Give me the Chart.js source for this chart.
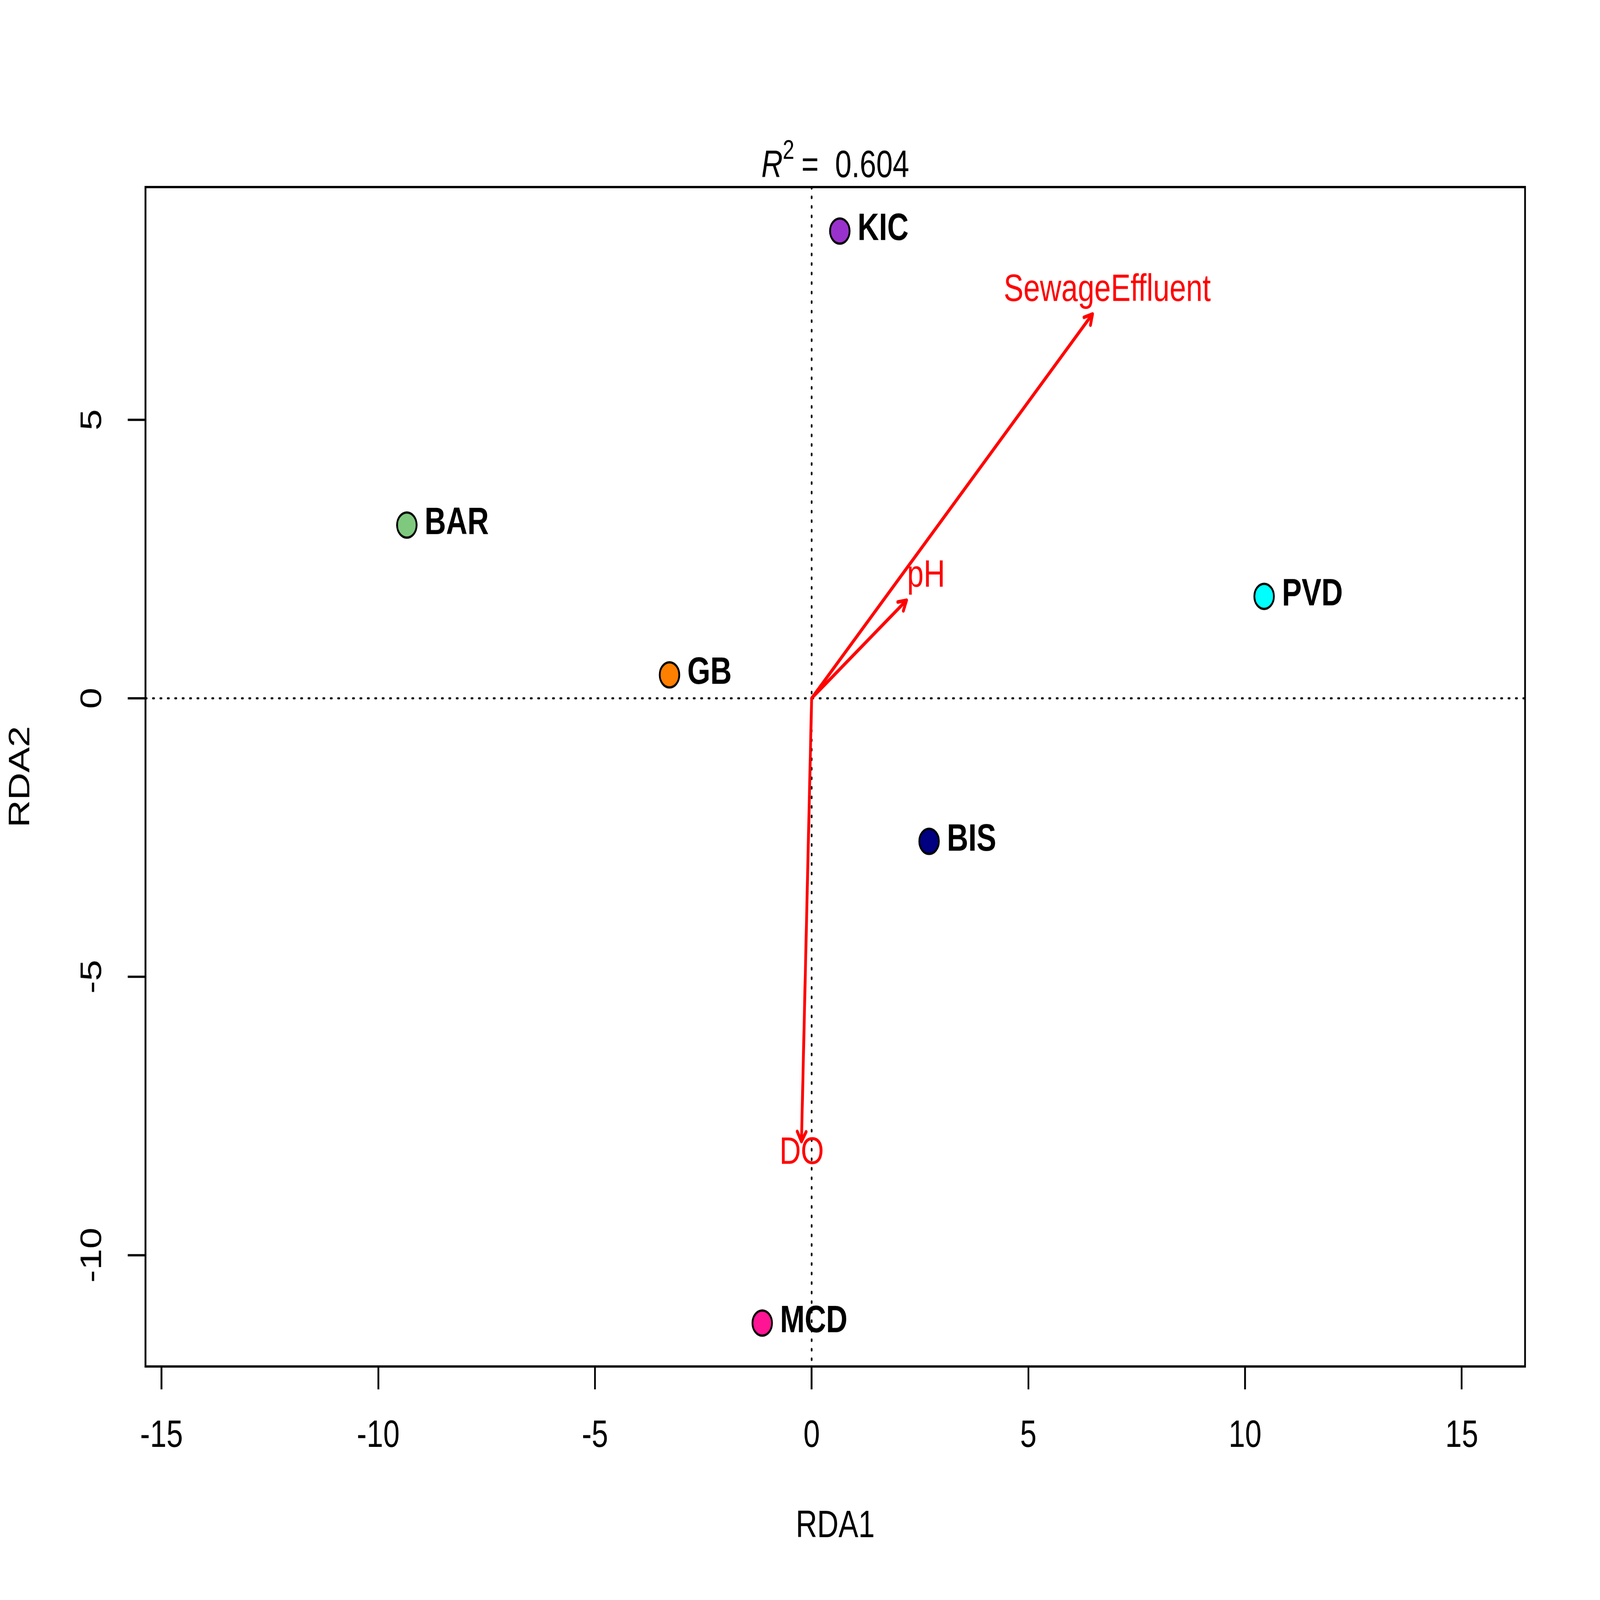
<!DOCTYPE html>
<html><head><meta charset="utf-8">
<script src="https://cdn.jsdelivr.net/npm/chart.js@4"></script>
<style>html,body{margin:0;padding:0;background:#fff;overflow:hidden;}canvas{display:block;}</style>
</head><body>
<canvas id="c" width="5400" height="4200"></canvas>
<script>
// ---- data ----
const siteNames = ['KIC','BAR','GB','PVD','BIS','MCD'];
const siteX = [0.65, -9.34, -3.28, 10.44, 2.71, -1.14];
const siteY = [8.39, 3.11, 0.42, 1.83, -2.57, -11.22];
const siteColors = ['#9932CC','#7FC97F','#FF7F00','#00FFFF','#000080','#FF1493'];
const envNames = ['SewageEffluent','pH','DO'];
const envX = [6.48, 2.19, -0.235];
const envY = [6.90, 1.76, -7.96];
const envLabelX = [6.82, 2.64, -0.23];
const envLabelY = [7.32, 2.19, -8.17];
const xTicks = [-15,-10,-5,0,5,10,15];
const xTickLabels = ['-15','-10','-5','0','5','10','15'];
const yTicks = [-10,-5,0,5];
const yTickLabels = ['-10','-5','0','5'];
const xRange = [-15.37, 16.46];
const yRange = [-12.0, 9.18];
const r2Value = '0.604';
const xTitle = 'RDA1';
const yTitle = 'RDA2';

const FONT = '"Liberation Sans", Arial, Helvetica, sans-serif';

// fit the 5400x4200 drawing into the actual window
const cv = document.getElementById('c');
cv.style.width = (window.innerWidth || 5400) + 'px';
cv.style.height = (window.innerHeight || 4200) + 'px';

const rdaPlugin = {
  id: 'rda',
  beforeDatasetsDraw(chart) {
    const {ctx, chartArea: a, scales: {x, y}} = chart;
    ctx.save();
    ctx.strokeStyle = '#000';
    ctx.lineWidth = 5.5;
    ctx.lineCap = 'round';
    ctx.setLineDash([4, 21]);
    const x0 = x.getPixelForValue(0), y0 = y.getPixelForValue(0);
    ctx.beginPath(); ctx.moveTo(a.left, y0); ctx.lineTo(a.right, y0); ctx.stroke();
    ctx.beginPath(); ctx.moveTo(x0, a.top); ctx.lineTo(x0, a.bottom); ctx.stroke();
    ctx.restore();
  },
  afterDatasetsDraw(chart) {
    const {ctx, scales: {x, y}} = chart;
    ctx.save();
    // arrowheads
    ctx.strokeStyle = '#FF0000';
    ctx.lineWidth = 9.5;
    ctx.lineCap = 'round';
    ctx.lineJoin = 'round';
    for (let i = 0; i < envNames.length; i++) {
      const meta = chart.getDatasetMeta(i + 1);
      const p0 = meta.data[0], p1 = meta.data[1];
      const ang = Math.atan2(p1.y - p0.y, p1.x - p0.x);
      const L = 30, h = Math.PI / 6;
      ctx.beginPath();
      ctx.moveTo(p1.x - L * Math.cos(ang - h), p1.y - L * Math.sin(ang - h));
      ctx.lineTo(p1.x, p1.y);
      ctx.lineTo(p1.x - L * Math.cos(ang + h), p1.y - L * Math.sin(ang + h));
      ctx.stroke();
    }
    // env labels
    ctx.fillStyle = '#FF0000';
    ctx.font = '100px ' + FONT;
    ctx.textAlign = 'center';
    ctx.textBaseline = 'middle';
    for (let i = 0; i < envNames.length; i++) {
      ctx.fillText(envNames[i], x.getPixelForValue(envLabelX[i]), y.getPixelForValue(envLabelY[i]));
    }
    // site labels
    ctx.fillStyle = '#000';
    ctx.font = 'bold 100px ' + FONT;
    ctx.textAlign = 'left';
    ctx.textBaseline = 'alphabetic';
    const pm = chart.getDatasetMeta(0);
    for (let i = 0; i < siteNames.length; i++) {
      const p = pm.data[i];
      ctx.fillText(siteNames[i], p.x + 60, p.y + 24);
    }
    ctx.restore();
  },
  afterDraw(chart) {
    const {ctx, chartArea: a, scales: {y}} = chart;
    ctx.save();
    // box
    ctx.strokeStyle = '#000';
    ctx.lineWidth = 6;
    ctx.strokeRect(a.left, a.top, a.right - a.left, a.bottom - a.top);
    // y tick labels (rotated, as in R)
    ctx.fillStyle = '#000';
    ctx.font = '100px ' + FONT;
    ctx.textAlign = 'center';
    ctx.textBaseline = 'middle';
    for (let i = 0; i < yTicks.length; i++) {
      ctx.save();
      ctx.translate(a.left - 178, y.getPixelForValue(yTicks[i]));
      ctx.rotate(-Math.PI / 2);
      ctx.fillText(yTickLabels[i], 0, 0);
      ctx.restore();
    }
    // title: italic R, superscript 2, " = ", value
    ctx.textAlign = 'left';
    ctx.textBaseline = 'alphabetic';
    const fR = 'italic 100px ' + FONT, fS = '70px ' + FONT, fN = '100px ' + FONT;
    ctx.font = fR; const wR = ctx.measureText('R').width;
    ctx.font = fS; const w2 = ctx.measureText('2').width;
    ctx.font = fN; const wE = ctx.measureText('=').width; const wV = ctx.measureText(r2Value).width;
    const g1 = 24, g2 = 55;
    const total = wR + w2 + g1 + wE + g2 + wV;
    let cx = (a.left + a.right) / 2 - total / 2;
    const base = a.top - 26;
    ctx.font = fR; ctx.fillText('R', cx, base); cx += wR;
    ctx.font = fS; ctx.fillText('2', cx, base - 48); cx += w2 + g1;
    ctx.font = fN; ctx.fillText('=', cx, base); cx += wE + g2;
    ctx.fillText(r2Value, cx, base);
    ctx.restore();
  }
};

const datasets = [{
  label: 'sites',
  type: 'scatter',
  data: siteX.map((v, i) => ({x: v, y: siteY[i]})),
  backgroundColor: siteColors,
  borderColor: '#000',
  borderWidth: 6,
  pointRadius: 33,
  pointHoverRadius: 33,
  showLine: false
}];
for (let i = 0; i < envNames.length; i++) {
  datasets.push({
    label: envNames[i],
    type: 'line',
    data: [{x: 0, y: 0}, {x: envX[i], y: envY[i]}],
    borderColor: '#FF0000',
    borderWidth: 9.5,
    pointRadius: 0,
    fill: false,
    tension: 0,
    borderCapStyle: 'round'
  });
}

new Chart(cv, {
  type: 'scatter',
  data: {datasets},
  options: {
    responsive: false,
    animation: false,
    devicePixelRatio: 1,
    events: [],
    layout: {padding: {left: 0, right: 253, top: 491, bottom: 0}},
    plugins: {legend: {display: false}, tooltip: {enabled: false}, title: {display: false}},
    scales: {
      x: {
        type: 'linear', position: 'bottom', min: xRange[0], max: xRange[1],
        afterBuildTicks: s => { s.ticks = xTicks.map(v => ({value: v})); },
        afterFit: s => { s.height = 613; },
        grid: {drawOnChartArea: false, drawTicks: true, tickLength: 60, lineWidth: 6, color: '#000'},
        border: {display: false},
        ticks: {font: {family: FONT, size: 100}, color: '#000', padding: 63, maxRotation: 0, minRotation: 0, autoSkip: false,
                callback: (v, i) => xTickLabels[i]},
        title: {display: true, text: xTitle, font: {family: FONT, size: 100}, color: '#000', padding: {top: 0, bottom: 133}}
      },
      y: {
        type: 'linear', position: 'left', min: yRange[0], max: yRange[1],
        afterBuildTicks: s => { s.ticks = yTicks.map(v => ({value: v})); },
        afterFit: s => { s.width = 491; },
        grid: {drawOnChartArea: false, drawTicks: true, tickLength: 60, lineWidth: 6, color: '#000'},
        border: {display: false},
        ticks: {display: false},
        title: {display: true, text: yTitle, font: {family: FONT, size: 100}, color: '#000', padding: {top: 11, bottom: 0}}
      }
    }
  },
  plugins: [rdaPlugin]
});
</script>
</body></html>
